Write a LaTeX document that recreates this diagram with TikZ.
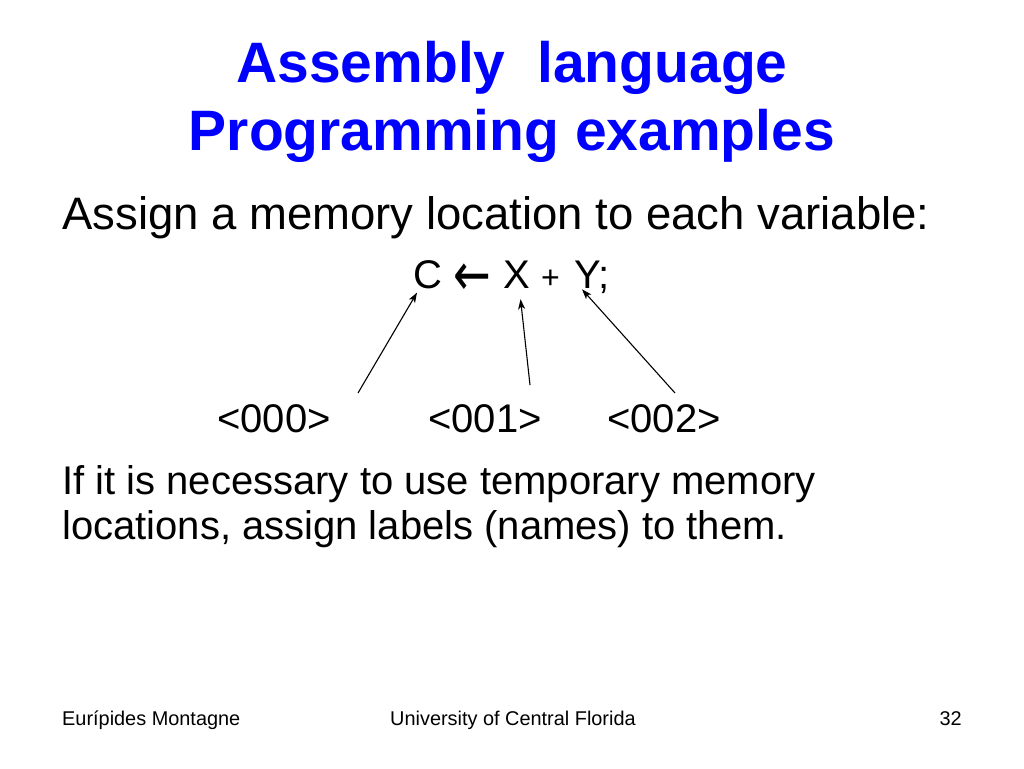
\documentclass[tikz,border=0pt]{standalone}
\usepackage{fontspec}
\setmainfont{Liberation Sans}
\newfontfamily\arrowfont[FakeStretch=0.75]{DejaVu Sans}
\usetikzlibrary{positioning,arrows.meta}
\definecolor{titleblue}{RGB}{0,0,255}
\tikzset{
  slidetitle/.style={anchor=base,inner sep=0pt,text=titleblue,font=\fontsize{57}{65}\selectfont\bfseries},
  bodytext/.style={anchor=base west,inner sep=0pt,font=\fontsize{45.5}{52}\selectfont},
  smalltext/.style={anchor=base west,inner sep=0pt,font=\fontsize{40}{46}\selectfont},
  footer/.style={inner sep=0pt,font=\fontsize{19.9}{23}\selectfont},
  pointer/.style={-{Stealth[length=10pt,width=7pt,inset=2.5pt]},line width=1.1pt}
}
\begin{document}
\begin{tikzpicture}[x=1pt,y=-1pt]
\useasboundingbox[fill=white] (0,0) rectangle (1024,768);
% title
\node[slidetitle] (title1) at (512,82) {Assembly\ \ language};
\node[slidetitle] (title2) at (512,150) {Programming examples};
% body
\node[bodytext] (assign) at (62,229) {Assign a memory location to each variable:};
% C <- X + Y;
\node[smalltext] (varC) at (413,288) {C};
\node[smalltext,font=\arrowfont\fontsize{60}{64}\selectfont] (getsarrow) at (453,295) {←};
\node[smalltext] (varX) at (503,288) {X};
\node[smalltext,font=\fontsize{32}{36}\selectfont] (plus) at (541,288) {+};
\node[smalltext] (varY) at (574,288) {Y;};
% addresses
\node[smalltext] (addr0) at (217,432) {<000>};
\node[smalltext] (addr1) at (428,432) {<001>};
\node[smalltext] (addr2) at (607,432) {<002>};
\node[smalltext] (temp1) at (62,494) {If it is necessary to use temporary memory};
\node[smalltext] (temp2) at (62,539) {locations, assign labels (names) to them.};
% pointers
\coordinate (tail0) at (358,393);
\coordinate (tail1) at (530,385);
\coordinate (tail2) at (675,393);
\draw[pointer] (tail0) -- ([shift={(4,4)}]varC.south west);
\draw[pointer] (tail1) -- ([shift={(4,11)}]varX.south);
\draw[pointer] (tail2) -- ([shift={(8,-4)}]varY.south west);
% footer
\node[footer,anchor=base west] (author) at (62,725) {Eurípides Montagne};
\node[footer,anchor=base west] (univ) at (390,725) {University of Central Florida};
\node[footer,anchor=base east] (page) at (962,725) {32};
\end{tikzpicture}
\end{document}
